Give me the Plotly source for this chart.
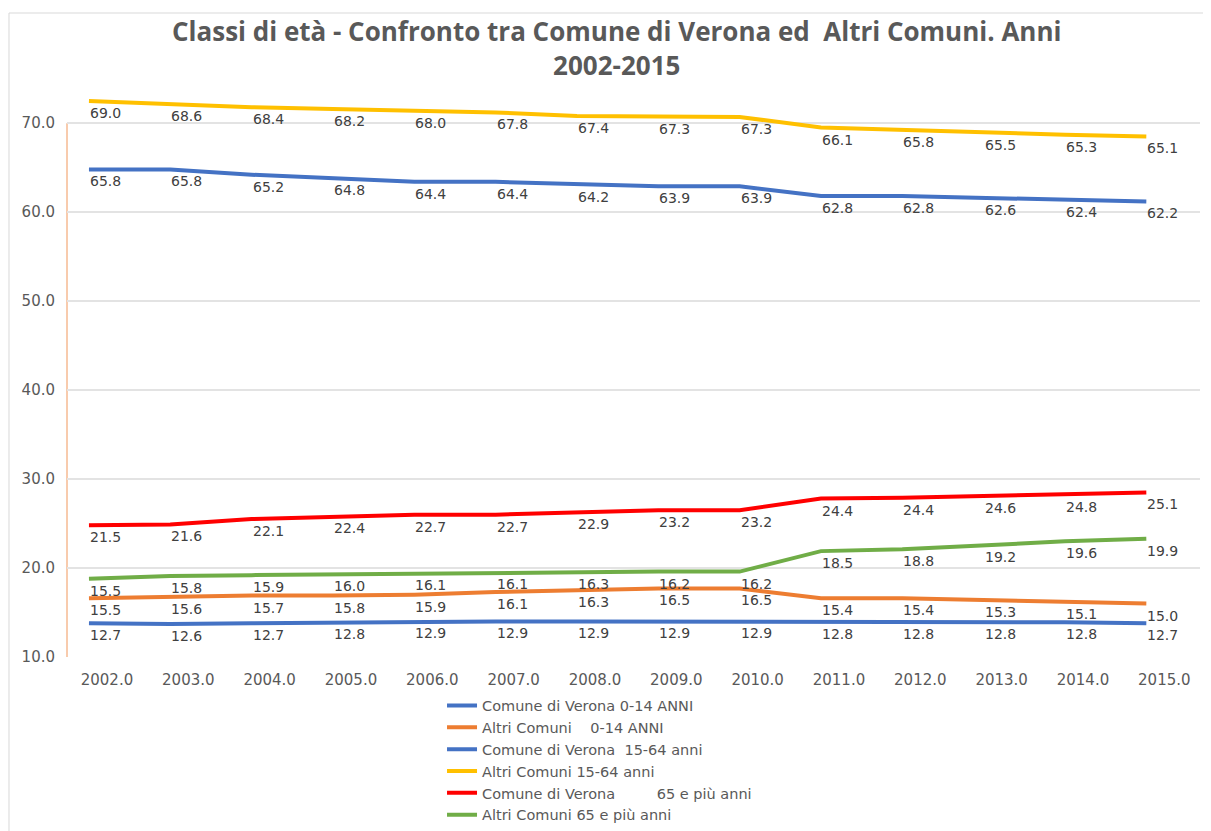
import plotly.graph_objects as go

years = list(range(2002, 2016))

# plotted line positions
verona_0_14 = [13.8, 13.7, 13.8, 13.9, 14.0, 14.0, 14.0, 14.0, 14.0, 13.9, 13.9, 13.9, 13.9, 13.8]
altri_0_14 = [16.6, 16.8, 16.9, 16.9, 17.0, 17.3, 17.5, 17.7, 17.7, 16.6, 16.6, 16.4, 16.2, 16.0]
verona_15_64 = [64.8, 64.8, 64.2, 63.8, 63.4, 63.4, 63.1, 62.9, 62.9, 61.8, 61.8, 61.6, 61.4, 61.2]
altri_15_64 = [72.5, 72.1, 71.8, 71.6, 71.4, 71.2, 70.8, 70.7, 70.7, 69.5, 69.2, 68.9, 68.7, 68.5]
verona_65 = [24.8, 24.9, 25.5, 25.8, 26.0, 26.0, 26.3, 26.5, 26.5, 27.8, 27.9, 28.1, 28.2, 28.5]
altri_65 = [18.8, 19.1, 19.2, 19.3, 19.4, 19.5, 19.6, 19.6, 19.6, 21.9, 22.1, 22.6, 23.0, 23.3]

# data label values shown on the chart
lbl_verona_0_14 = [12.7, 12.6, 12.7, 12.8, 12.9, 12.9, 12.9, 12.9, 12.9, 12.8, 12.8, 12.8, 12.8, 12.7]
lbl_altri_0_14 = [15.5, 15.6, 15.7, 15.8, 15.9, 16.1, 16.3, 16.5, 16.5, 15.4, 15.4, 15.3, 15.1, 15.0]
lbl_verona_15_64 = [65.8, 65.8, 65.2, 64.8, 64.4, 64.4, 64.2, 63.9, 63.9, 62.8, 62.8, 62.6, 62.4, 62.2]
lbl_altri_15_64 = [69.0, 68.6, 68.4, 68.2, 68.0, 67.8, 67.4, 67.3, 67.3, 66.1, 65.8, 65.5, 65.3, 65.1]
lbl_verona_65 = [21.5, 21.6, 22.1, 22.4, 22.7, 22.7, 22.9, 23.2, 23.2, 24.4, 24.4, 24.6, 24.8, 25.1]
lbl_altri_65 = [15.5, 15.8, 15.9, 16.0, 16.1, 16.1, 16.3, 16.2, 16.2, 18.5, 18.8, 19.2, 19.6, 19.9]

names = [
    "Comune di Verona 0-14 ANNI",
    "Altri Comuni\u00a0\u00a0\u00a0 0-14 ANNI",
    "Comune di Verona\u00a0 15-64 anni",
    "Altri Comuni 15-64 anni",
    "Comune di Verona\u00a0\u00a0\u00a0\u00a0\u00a0\u00a0\u00a0\u00a0 65 e più anni",
    "Altri Comuni 65 e più anni",
]
colors = ["#4472C4", "#ED7D31", "#4472C4", "#FFC000", "#FF0000", "#70AD47"]
series = [verona_0_14, altri_0_14, verona_15_64, altri_15_64, verona_65, altri_65]
labels = [lbl_verona_0_14, lbl_altri_0_14, lbl_verona_15_64, lbl_altri_15_64, lbl_verona_65, lbl_altri_65]

title_text = "Classi di età - Confronto tra Comune di Verona ed\u00a0 Altri Comuni. Anni<br>2002-2015"

fig = go.Figure()
annotations = []
for name, col, ys, lb in zip(names, colors, series, labels):
    fig.add_trace(go.Scatter(
        x=years, y=ys, name=name, mode="lines",
        line=dict(color=col, width=4),
    ))
    for xv, yv, lv in zip(years, ys, lb):
        annotations.append(dict(
            x=xv, y=yv, xref="x", yref="y", text=f"{lv:.1f}", showarrow=False,
            xanchor="left", yanchor="middle", yshift=-12, xshift=-1,
            font=dict(family="DejaVu Sans", size=14, color="#404040"),
        ))

annotations.append(dict(
    x=0.4846, y=1.0779, xref="paper", yref="paper", text=f"<b>{title_text}</b>",
    showarrow=False, xanchor="center", yanchor="middle",
    font=dict(family="Open Sans", size=26, color="#595959"),
))

fig.update_layout(
    width=1211, height=870,
    margin=dict(l=59, r=19, t=84, b=221),
    paper_bgcolor="white", plot_bgcolor="white",
    annotations=annotations,
    xaxis=dict(
        range=[2001.73, 2015.66], tickmode="linear", tick0=2002, dtick=1,
        tickformat=".1f", showgrid=False, zeroline=False, showline=False,
        tickfont=dict(family="DejaVu Sans", size=15, color="#595959"),
        ticklabelshift=18, ticklabelstandoff=12,
    ),
    yaxis=dict(
        range=[10, 73.5], tickmode="linear", tick0=10, dtick=10,
        tickformat=".1f", showgrid=True, gridcolor="#E3E3E3", gridwidth=1.5,
        zeroline=False, showline=False,
        tickfont=dict(family="DejaVu Sans", size=15, color="#595959"),
        ticklabelstandoff=11,
    ),
    legend=dict(
        orientation="v", x=0.331, xanchor="left", y=-0.0576, yanchor="top",
        font=dict(family="DejaVu Sans", size=14.5, color="#595959"),
        tracegroupgap=0, bgcolor="rgba(0,0,0,0)",
    ),
    showlegend=True,
)

# orange vertical axis line from 10 to 70
fig.add_shape(type="line", xref="paper", yref="y", x0=0, x1=0, y0=10, y1=70,
              line=dict(color="#F8CBAD", width=2), layer="below")
# chart border
fig.add_shape(type="rect", xref="paper", yref="paper",
              x0=-0.0512, x1=1.013, y0=-0.38, y1=1.1398,
              line=dict(color="#D9D9D9", width=1), layer="below")

fig.write_html("out.html")
